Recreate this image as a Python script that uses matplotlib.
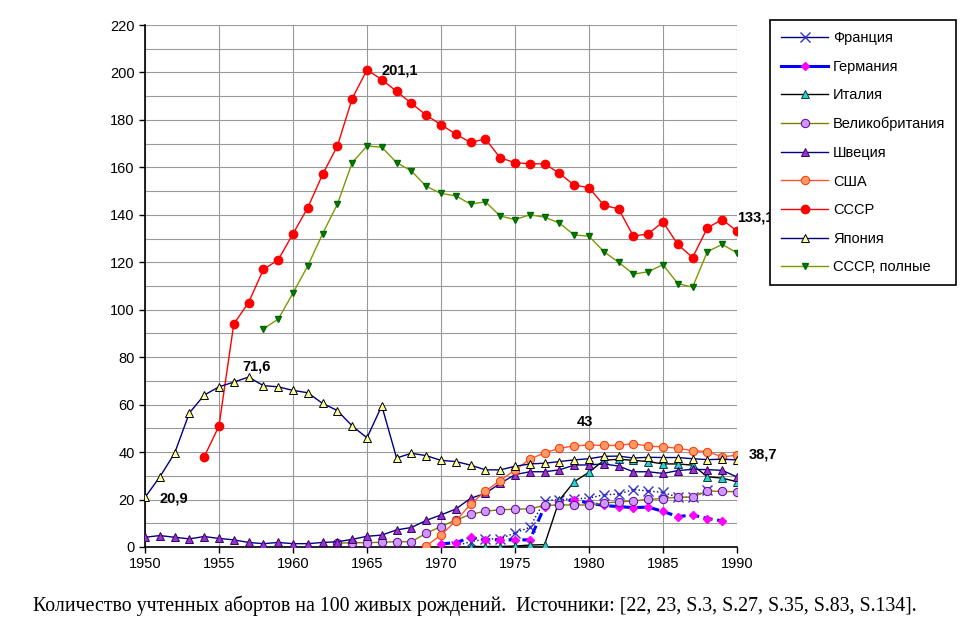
import matplotlib
matplotlib.use("Agg")
import matplotlib.pyplot as plt
from matplotlib.lines import Line2D

# --- dati ---
years_france = list(range(1971, 1989))
france = [0.5, 2.2, 3.3, 3.5, 5.9, 8.3, 19.5, 20.0, 20.3, 20.6, 22.0, 22.3,
          24.2, 23.6, 23.0, 21.0, 21.0, 24.0]

years_germany = list(range(1970, 1990))
germany = [1.3, 1.8, 4.0, 3.0, 3.0, 3.0, 3.0, 17.0, 19.3, 19.8, 18.5, 17.5,
           17.0, 16.6, 16.8, 15.0, 12.8, 13.5, 12.0, 11.0]

years_italy = list(range(1972, 1991))
italy = [0.2, 0.2, 0.2, 0.4, 0.8, 1.0, 19.8, 27.5, 31.5, 36.5, 37.0, 36.5,
         36.0, 35.0, 35.0, 34.5, 29.6, 29.0, 27.5]

years_uk = list(range(1963, 1991))
uk = [1.6, 1.8, 1.8, 2.0, 2.2, 2.2, 5.8, 8.6, 11.4, 13.7, 15.1, 15.7, 15.9,
      16.1, 17.5, 17.7, 17.7, 17.7, 18.5, 19.0, 19.4, 20.1, 20.4, 21.0, 21.0,
      23.6, 23.4, 23.3]

years_sweden = list(range(1950, 1991))
sweden = [4.1, 4.8, 4.1, 3.4, 4.4, 3.6, 3.0, 1.9, 1.4, 1.9, 1.4, 1.4, 1.9,
          2.2, 3.2, 4.5, 5.0, 7.2, 8.2, 11.2, 13.5, 16.0, 20.5, 22.6, 26.8,
          30.5, 31.7, 31.7, 32.5, 34.5, 34.6, 35.0, 34.1, 31.7, 31.7, 31.0,
          32.2, 32.7, 32.6, 32.3, 29.5]

years_usa = list(range(1969, 1991))
usa = [0.5, 5.0, 11.0, 18.0, 23.5, 28.0, 32.4, 37.0, 39.7, 41.6, 42.6, 43.0,
       42.8, 42.8, 43.6, 42.5, 42.2, 41.6, 40.6, 40.2, 38.0, 38.7]

years_ussr = list(range(1954, 1991))
ussr = [38, 51, 94, 103, 117, 121, 132, 143, 157, 169, 189, 201.1, 197, 192,
        187, 182, 178, 174, 170.5, 172, 164, 162, 161.5, 161.5, 157.5, 152.5,
        151.5, 144, 142.5, 131, 132, 137, 127.5, 122, 134.5, 138, 133.1]

years_japan = list(range(1950, 1991))
japan = [20.9, 29.5, 39.5, 56.5, 64, 67.5, 69.5, 71.6, 68, 67.5, 66, 65,
         60.5, 57.5, 51, 46, 59.5, 37.5, 39.5, 38.5, 36.5, 36, 34.5, 32.5,
         32.5, 34, 35, 35.3, 36, 36.7, 37.2, 38.2, 38.3, 37.5, 37.8, 37.7,
         37.7, 37.2, 36.8, 37, 36.7]

years_ussr_full = list(range(1958, 1991))
ussr_full = [92, 96, 107, 118.5, 132, 144.5, 162, 169, 168.5, 162, 158.5,
             152, 149, 148, 144.5, 145.5, 139.5, 138, 140, 139, 136.5, 131.5,
             131, 124.5, 120, 115, 116, 119, 111, 109.5, 124.5, 127.5, 124]

# etichette sui punti
labels_text = ["201,1", "71,6", "20,9", "43", "38,7", "133,1"]
labels_x = [1966.0, 1956.6, 1951.0, 1979.2, 1990.8, 1990.0]
labels_y = [201, 76, 20.6, 52.8, 38.8, 139]

caption = ("Количество учтенных абортов на 100 живых рождений.  "
           "Источники: [22, 23, S.3, S.27, S.35, S.83, S.134].")

plt.rcParams['font.family'] = ['Liberation Sans', 'DejaVu Sans']

fig = plt.figure(figsize=(9.75, 6.33), dpi=100)
ax = fig.add_axes([0.1487, 0.1359, 0.6072, 0.8246])

ms = 6

# serie: (anni, valori, etichetta, stile linea, stile marker)
series = [
    (years_france, france, "Франция",
     dict(color='#000080', lw=1.0, ls=':'),
     dict(marker='x', ms=6.5, mec='#3333CC', mfc='none', mew=1.0)),
    (years_germany, germany, "Германия",
     dict(color='#0000FF', lw=2.2, ls=(0, (3, 1.5))),
     dict(marker='D', ms=3.8, mec='#FF00FF', mfc='#FF00FF')),
    (years_italy, italy, "Италия",
     dict(color='#000000', lw=1.0),
     dict(marker='^', ms=ms, mec='#004040', mfc='#33CCCC', mew=0.7)),
    (years_uk, uk, "Великобритания",
     dict(color='#808000', lw=1.0),
     dict(marker='o', ms=ms, mec='#660099', mfc='#CC99FF', mew=0.7)),
    (years_sweden, sweden, "Швеция",
     dict(color='#000080', lw=1.0),
     dict(marker='^', ms=ms, mec='#330066', mfc='#9933CC', mew=0.7)),
    (years_usa, usa, "США",
     dict(color='#FF5533', lw=1.0),
     dict(marker='o', ms=ms, mec='#FF3300', mfc='#FF9966', mew=0.7)),
    (years_ussr, ussr, "СССР",
     dict(color='#FF0000', lw=1.0),
     dict(marker='o', ms=ms, mec='#FF0000', mfc='#FF0000')),
    (years_japan, japan, "Япония",
     dict(color='#000080', lw=1.0),
     dict(marker='^', ms=ms, mec='#000000', mfc='#FFFF99', mew=0.7)),
    (years_ussr_full, ussr_full, "СССР, полные",
     dict(color='#7A9A00', lw=1.0),
     dict(marker='v', ms=3.8, mec='#006600', mfc='#008000')),
]

handles = []
for x, y, name, lstyle, mstyle in series:
    ax.plot(x, y, **lstyle, **mstyle, zorder=3)
    # nella legenda le linee sono continue
    lh = dict(lstyle)
    lh['ls'] = '-'
    handles.append(Line2D([], [], label=name, **lh, **mstyle))

for t, tx, ty in zip(labels_text, labels_x, labels_y):
    ax.text(tx, ty, t, fontsize=10.5, fontweight='bold', ha='left',
            va='center', clip_on=False, zorder=5)

ax.set_xlim(1950, 1990)
ax.set_ylim(0, 220)
ax.set_xticks(range(1950, 1991, 5))
ax.set_yticks(range(0, 221, 20))
ax.set_yticks(range(10, 220, 20), minor=True)
ax.tick_params(axis='both', labelsize=10.5, direction='out', length=4, width=1)
ax.tick_params(axis='y', which='minor', length=0)
ax.grid(True, which='major', color='#999999', lw=0.8)
ax.grid(True, which='minor', axis='y', color='#999999', lw=0.8)
ax.set_axisbelow(True)
for s in ['top', 'right']:
    ax.spines[s].set_visible(False)
ax.spines['left'].set_linewidth(1.2)
ax.spines['bottom'].set_linewidth(1.2)

leg = fig.legend(handles=handles, loc='upper left',
                 bbox_to_anchor=(0.79, 0.968), fontsize=10.5, frameon=True,
                 fancybox=False, edgecolor='black', framealpha=1,
                 labelspacing=1.0, handlelength=3.2, borderpad=0.75,
                 handletextpad=0.35, borderaxespad=0)
leg.get_frame().set_linewidth(1.2)

fig.text(0.034, 0.043, caption, fontsize=14.3, family='Liberation Serif',
         ha='left', va='center')

fig.savefig("out.png", dpi=100)
